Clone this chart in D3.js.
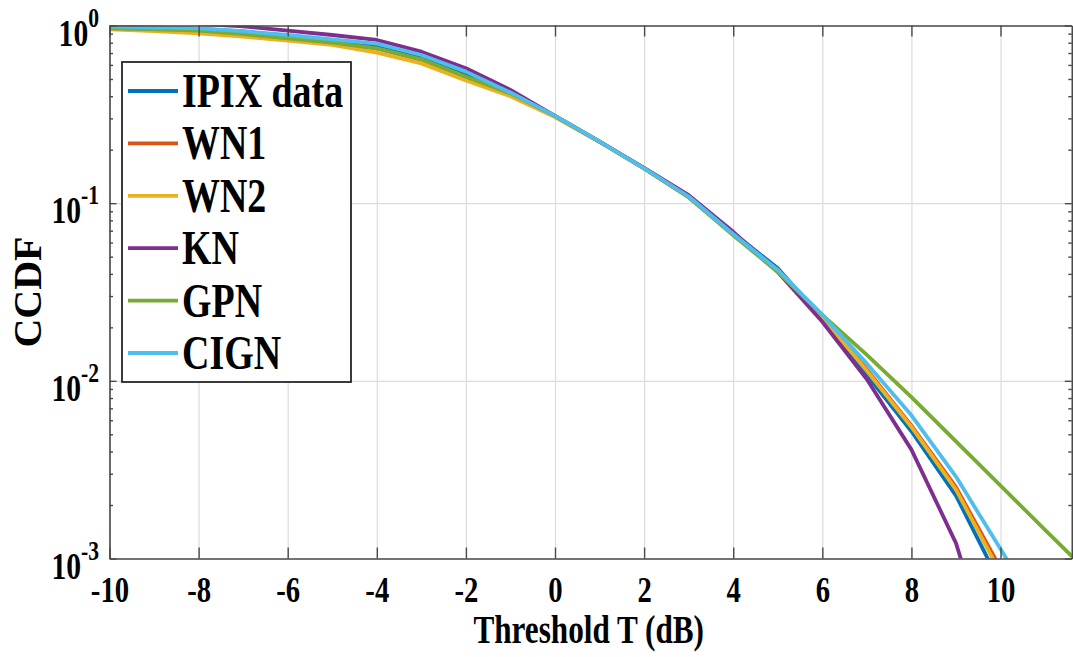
<!DOCTYPE html>
<html>
<head>
<meta charset="utf-8">
<script src="https://cdn.jsdelivr.net/npm/d3@7/dist/d3.min.js"></script>
<style>
  html, body { margin: 0; padding: 0; background: #fff; }
  svg { display: block; }
  text { font-family: "Liberation Serif", "Times New Roman", serif; font-weight: bold; fill: #000; }
</style>
</head>
<body>
<svg id="chart" width="1073" height="657"></svg>
<script>
// Threshold values (dB) at which each CCDF is sampled
const thresholds = [-10, -9, -8, -7, -6, -5, -4, -3, -2, -1, 0, 1, 2, 3, 4, 5, 6, 7, 8, 9, 10, 11, 12];

// CCDF series (null where a series has no sample)
const ipixData = [0.984, 0.975, 0.958, 0.925, 0.872, 0.82, 0.765, 0.665, 0.535, 0.418, 0.31, 0.222, 0.157, 0.109, 0.068, 0.043, 0.0225, 0.0108, 0.0052, 0.00226, 0.00072, null, null];
const wn1 = [0.995, 0.965, 0.94, 0.905, 0.855, 0.805, 0.742, 0.643, 0.515, 0.41, 0.309, 0.222, 0.157, 0.108, 0.067, 0.042, 0.0228, 0.0116, 0.0056, 0.00252, 0.00088, null, null];
const wn2 = [0.952, 0.93, 0.904, 0.866, 0.821, 0.777, 0.703, 0.612, 0.49, 0.40, 0.305, 0.221, 0.157, 0.108, 0.067, 0.042, 0.0228, 0.0114, 0.0055, 0.00244, 0.00083, null, null];
const kn = [null, null, 1.02, 0.99, 0.935, 0.884, 0.829, 0.712, 0.574, 0.434, 0.31, 0.222, 0.158, 0.111, 0.069, 0.041, 0.0215, 0.0102, 0.0041, 0.00122, 0.00019, null, null];
const gpn = [0.964, 0.95, 0.935, 0.895, 0.847, 0.80, 0.744, 0.645, 0.515, 0.415, 0.31, 0.222, 0.157, 0.108, 0.066, 0.041, 0.0235, 0.014, 0.0081, 0.00456, 0.00257, 0.00145, 0.00082];
const cign = [0.985, 0.975, 0.964, 0.93, 0.884, 0.836, 0.79, 0.682, 0.55, 0.42, 0.31, 0.222, 0.157, 0.109, 0.067, 0.042, 0.0235, 0.0125, 0.0064, 0.00289, 0.00113, 0.00044, null];

const seriesNames = ["IPIX data", "WN1", "WN2", "KN", "GPN", "CIGN"];
const seriesColors = ["#0072BD", "#D95319", "#EDB120", "#7E2F8E", "#77AC30", "#4DBEEE"];
const seriesValues = [ipixData, wn1, wn2, kn, gpn, cign];

// Axis ticks and labels
const xTicks = [-10, -8, -6, -4, -2, 0, 2, 4, 6, 8, 10];
const yTicks = [1, 0.1, 0.01, 0.001];
const yExponents = ["0", "-1", "-2", "-3"];
const xTitle = "Threshold T (dB)";
const yTitle = "CCDF";

// Plot frame
const plotLeft = 109.5, plotRight = 1071.8, plotTop = 25.5, plotBottom = 558.5;
const plotW = plotRight - plotLeft, plotH = plotBottom - plotTop;

const x = d3.scaleLinear().domain([-10, 11.6]).range([plotLeft, plotRight]);
const y = d3.scaleLog().domain([0.001, 1]).range([plotBottom, plotTop]);

const svg = d3.select("#chart");

svg.append("defs").append("clipPath").attr("id", "plotClip")
  .append("rect").attr("x", plotLeft).attr("y", plotTop).attr("width", plotW).attr("height", plotH);

// Grid
const grid = svg.append("g").attr("class", "grid");
grid.append("g").attr("transform", `translate(0,${plotBottom})`)
  .call(d3.axisBottom(x).tickValues(xTicks).tickSize(-plotH).tickFormat(""));
grid.append("g").attr("transform", `translate(${plotLeft},0)`)
  .call(d3.axisLeft(y).tickValues(yTicks).tickSize(-plotW).tickFormat(""));
grid.selectAll(".domain").remove();
grid.selectAll("line").attr("stroke", "#dcdcdc").attr("stroke-width", 1.2);

// Curves
const line = d3.line()
  .defined(d => d.v != null)
  .x(d => x(d.t))
  .y(d => y(d.v));

const curves = svg.append("g").attr("clip-path", "url(#plotClip)");
seriesValues.forEach((vals, i) => {
  const pts = thresholds.map((t, k) => ({ t, v: vals[k] }));
  curves.append("path")
    .datum(pts)
    .attr("fill", "none")
    .attr("stroke", seriesColors[i])
    .attr("stroke-width", 3.8)
    .attr("stroke-linejoin", "round")
    .attr("d", line);
});

// Axes (ticks inward, box on)
const axisColor = "#4a4a4a";
const minorTicks = [];
[0.001, 0.01, 0.1].forEach(base => { for (let m = 2; m <= 9; m++) minorTicks.push(base * m); });

const axes = svg.append("g");
const xb = axes.append("g").attr("transform", `translate(0,${plotBottom})`)
  .call(d3.axisBottom(x).tickValues(xTicks).tickSizeInner(-11).tickSizeOuter(0).tickPadding(0));
axes.append("g").attr("transform", `translate(0,${plotTop})`)
  .call(d3.axisTop(x).tickValues(xTicks).tickSizeInner(-11).tickSizeOuter(0).tickFormat(""));
axes.append("g").attr("transform", `translate(${plotLeft},0)`)
  .call(d3.axisLeft(y).tickValues(yTicks).tickSizeInner(-7).tickSizeOuter(0).tickFormat(""));
axes.append("g").attr("transform", `translate(${plotRight},0)`)
  .call(d3.axisRight(y).tickValues(yTicks).tickSizeInner(-7).tickSizeOuter(0).tickFormat(""));
axes.append("g").attr("transform", `translate(${plotLeft},0)`)
  .call(d3.axisLeft(y).tickValues(minorTicks).tickSizeInner(-3.5).tickSizeOuter(0).tickFormat(""))
  .select(".domain").remove();
axes.append("g").attr("transform", `translate(${plotRight},0)`)
  .call(d3.axisRight(y).tickValues(minorTicks).tickSizeInner(-3.5).tickSizeOuter(0).tickFormat(""))
  .select(".domain").remove();
axes.selectAll(".domain").attr("stroke", axisColor).attr("stroke-width", 1.6);
axes.selectAll(".tick line").attr("stroke", axisColor).attr("stroke-width", 1.4);

// X tick labels
xb.selectAll(".tick text")
  .attr("y", 0).attr("dy", null)
  .attr("transform", "translate(0,43) scale(0.82,1)")
  .style("font-size", "35px")
  .style("font-family", "'Liberation Serif', serif")
  .attr("fill", "#1a1a1a")
  .text(d => d < 0 ? "-" + Math.abs(d) : String(d));

// Y tick labels as 10^k
yTicks.forEach((v, i) => {
  const g = svg.append("g").attr("transform", `translate(99,${y(v)}) scale(0.8,1)`);
  const t = g.append("text").attr("text-anchor", "end").attr("fill", "#1a1a1a").attr("y", 20);
  t.append("tspan").style("font-size", "37px").text("10");
  t.append("tspan").attr("dy", -19).style("font-size", "27px").text(yExponents[i]);
});

// Axis titles
svg.append("text")
  .attr("transform", `translate(${(plotLeft + plotRight) / 2 - 2},643) scale(0.78,1)`)
  .attr("text-anchor", "middle")
  .style("font-size", "40px")
  .attr("fill", "#1a1a1a")
  .text(xTitle);

svg.append("text")
  .attr("transform", `translate(41,${(plotTop + plotBottom) / 2}) rotate(-90)`)
  .attr("text-anchor", "middle")
  .style("font-size", "40px")
  .attr("fill", "#1a1a1a")
  .text(yTitle);

// Legend
const legend = svg.append("g");
legend.append("rect")
  .attr("x", 122).attr("y", 62).attr("width", 229).attr("height", 320)
  .attr("fill", "#fff").attr("stroke", "#262626").attr("stroke-width", 1.8);
seriesNames.forEach((name, i) => {
  const cy = 91 + i * 52.4;
  legend.append("line")
    .attr("x1", 128).attr("x2", 178).attr("y1", cy).attr("y2", cy)
    .attr("stroke", seriesColors[i]).attr("stroke-width", 3.8);
  legend.append("text")
    .attr("transform", `translate(182,${cy + 16}) scale(0.79,1)`)
    .style("font-size", "48px")
    .text(name);
});
</script>
</body>
</html>
